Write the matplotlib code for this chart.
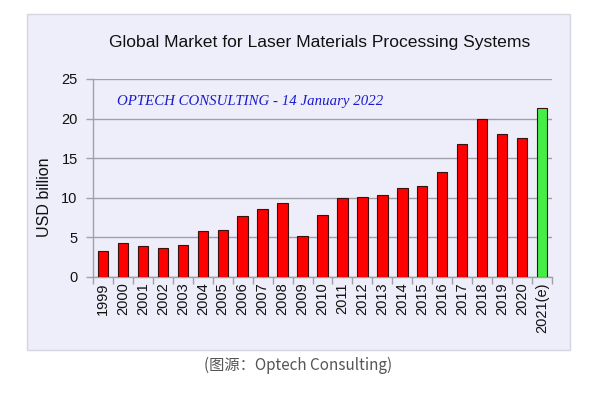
import matplotlib
matplotlib.use("Agg")
import matplotlib.pyplot as plt
from matplotlib.patches import Rectangle

years = ["1999", "2000", "2001", "2002", "2003", "2004", "2005", "2006", "2007",
         "2008", "2009", "2010", "2011", "2012", "2013", "2014", "2015", "2016",
         "2017", "2018", "2019", "2020", "2021(e)"]
values = [3.3, 4.3, 3.95, 3.7, 4.1, 5.8, 5.9, 7.65, 8.6, 9.35, 5.2, 7.85, 9.95,
          10.05, 10.4, 11.2, 11.55, 13.2, 16.8, 19.9, 18.0, 17.5, 21.3]
colors = ["#ff0000"] * (len(years) - 1) + ["#44ee44"]
yticks = [0, 5, 10, 15, 20, 25]

plt.rcParams['font.family'] = ['Liberation Sans', 'DejaVu Sans']

fig = plt.figure(figsize=(6, 3.96), dpi=100)
fig.patch.set_facecolor("white")

# background panel
panel = Rectangle((27 / 600, 1 - 350 / 396), (570 - 27) / 600, (350 - 14) / 396,
                  transform=fig.transFigure, facecolor="#eeeefb",
                  edgecolor="#d6d6de", linewidth=1.0, zorder=-10)
fig.patches.append(panel)

ax = fig.add_axes([93 / 600, 1 - 277 / 396, (552 - 93) / 600, (277 - 79) / 396])
ax.set_facecolor("none")
ax.set_zorder(1)

x = list(range(len(years)))
ax.bar(x, values, width=0.52, color=colors, edgecolor="#3a1010", linewidth=0.8, zorder=3)

ax.set_xlim(-0.5, len(years) - 0.5)
ax.set_ylim(0, 25)
ax.set_yticks(yticks)
ax.set_yticklabels([str(t) for t in yticks], fontsize=10.5, color="#111111")
ax.yaxis.grid(True, color="#a0a0a8", linewidth=1.0, zorder=1)
ax.set_axisbelow(True)

ax.set_xticks(x)
ax.set_xticklabels(years, rotation=90, fontsize=10.5, color="#111111")
ax.tick_params(axis="x", length=0, pad=4)
# category boundary ticks
ax.set_xticks([i - 0.5 for i in range(len(years) + 1)], minor=True)
ax.tick_params(axis="x", which="minor", length=5, color="#a0a0a8", width=1.0)
ax.tick_params(axis="y", length=5, color="#a0a0a8", width=1.0, pad=6)

for s in ["top", "right"]:
    ax.spines[s].set_visible(False)
ax.spines["left"].set_color("#a0a0a8")
ax.spines["bottom"].set_color("#a0a0a8")
ax.spines["left"].set_linewidth(1.0)
ax.spines["bottom"].set_linewidth(1.0)

ax.set_ylabel("USD billion", fontsize=11.5, color="#111111")
ax.yaxis.set_label_coords((52 - 93) / (552 - 93), (277 - 197) / (277 - 79))

fig.text(320 / 600, 1 - 42 / 396, "Global Market for Laser Materials Processing Systems",
         ha="center", va="center", fontsize=12.6, color="#111111")

fig.text(117 / 600, 1 - 102 / 396, "OPTECH CONSULTING - 14 January 2022",
         ha="left", va="center", fontsize=10.7, color="#1a1acc",
         family=["Liberation Serif", "DejaVu Serif"], style="italic")

fig.text(298 / 600, 1 - 365 / 396, "(图源：Optech Consulting)",
         ha="center", va="center", fontsize=11, color="#555555",
         family=["Noto Sans CJK SC", "DejaVu Sans"])

fig.savefig("out.png", dpi=100)
